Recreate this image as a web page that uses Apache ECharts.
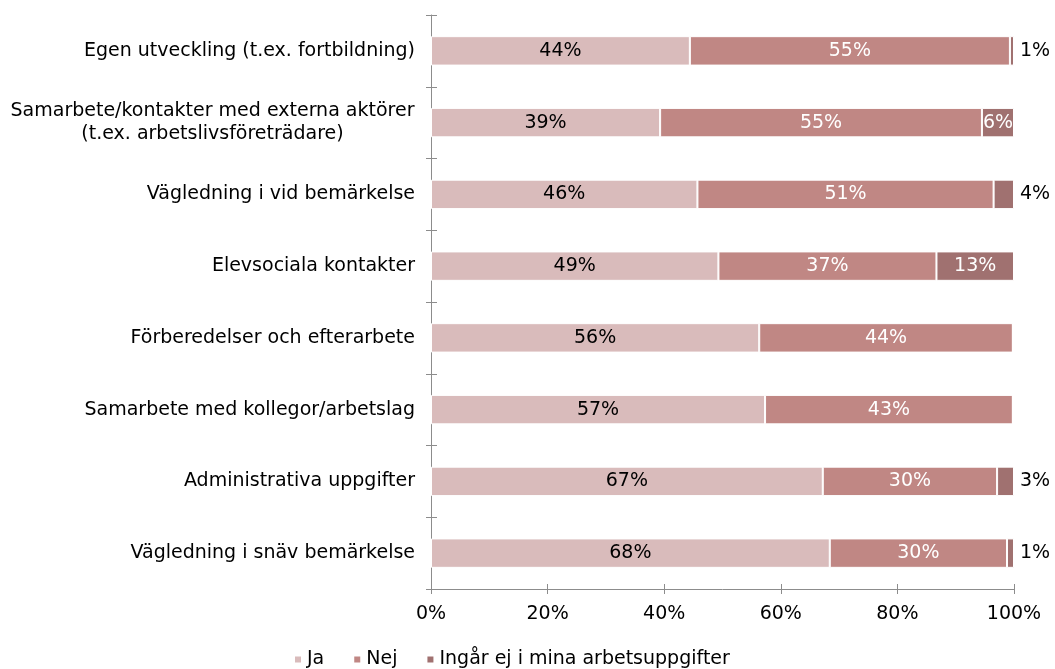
<!DOCTYPE html>
<html>
<head>
<meta charset="utf-8">
<script src="https://cdn.jsdelivr.net/npm/echarts@6/dist/echarts.min.js"></script>
<style>
  html, body { margin: 0; padding: 0; background: #fff; }
  #chart { width: 1055px; height: 669px; }
</style>
</head>
<body>
<div id="chart"></div>
<script>
// kategorier, uppifrån och ned
var categories = [
  'Egen utveckling (t.ex. fortbildning)',
  'Samarbete/kontakter med externa aktörer\n(t.ex. arbetslivsföreträdare)',
  'Vägledning i vid bemärkelse',
  'Elevsociala kontakter',
  'Förberedelser och efterarbete',
  'Samarbete med kollegor/arbetslag',
  'Administrativa uppgifter',
  'Vägledning i snäv bemärkelse'
];
var seriesNames = ['Ja', 'Nej', 'Ingår ej i mina arbetsuppgifter'];
var jaValues = [44.4, 39.3, 45.7, 49.3, 56.3, 57.3, 67.2, 68.4];
var nejValues = [54.9, 55.2, 50.8, 37.4, 43.5, 42.5, 29.9, 30.4];
var ingarValues = [0.7, 5.5, 3.5, 13.3, 0, 0, 2.9, 1.2];
var xTicks = [0, 20, 40, 60, 80, 100];

var colors = ['#D9BBBB', '#C08784', '#A07170'];
var fontFam = '"DejaVu Sans", Verdana, sans-serif';
var fs = 19;
var axisGrey = '#8c8c8c';

var chart = echarts.init(document.getElementById('chart'));

function pct(p) {
  return Math.round(p.value) + '%';
}

// små värden hamnar utanför stapeln
var ingarData = ingarValues.map(function (v) {
  if (v === 0) return { value: v, label: { show: false } };
  if (v < 5) return { value: v, label: { position: 'right', color: '#000', distance: 6 } };
  return { value: v, label: { position: 'inside', color: '#fff' } };
});

var gridBox = { left: 431, right: 41, top: 15, bottom: 80 };

var option = {
  animation: false,
  color: colors,
  textStyle: { fontFamily: fontFam },
  // grid 1 ligger ovanpå och ritar bara tickarnas inre halva
  grid: [gridBox, gridBox],
  legend: {
    data: seriesNames,
    bottom: -5,
    left: 288,
    icon: 'rect',
    itemWidth: 8,
    itemHeight: 8,
    itemGap: 28,
    textStyle: { fontSize: fs, color: '#000', fontFamily: fontFam }
  },
  xAxis: [
    {
      type: 'value',
      min: xTicks[0],
      max: xTicks[xTicks.length - 1],
      interval: 20,
      axisLine: { show: true, lineStyle: { color: axisGrey } },
      axisTick: { show: true, length: 5, lineStyle: { color: axisGrey } },
      splitLine: { show: false },
      axisLabel: {
        margin: 16,
        fontSize: fs,
        color: '#000',
        formatter: '{value}%'
      }
    },
    {
      type: 'value',
      gridIndex: 1,
      min: xTicks[0],
      max: xTicks[xTicks.length - 1],
      interval: 20,
      axisLine: { show: false },
      axisTick: { show: true, inside: true, length: 5, lineStyle: { color: axisGrey } },
      splitLine: { show: false },
      axisLabel: { show: false }
    }
  ],
  yAxis: [
    {
      type: 'category',
      inverse: true,
      data: categories,
      axisLine: { show: true, lineStyle: { color: axisGrey } },
      axisTick: { show: true, length: 5, lineStyle: { color: axisGrey } },
      axisLabel: {
        margin: 16,
        fontSize: fs,
        color: '#000',
        lineHeight: 23,
        formatter: function (v) {
          if (v.indexOf('\n') < 0) return v;
          return v.split('\n').map(function (s) { return '{c|' + s + '}'; }).join('\n');
        },
        rich: {
          c: { width: 405, align: 'center', fontSize: fs, lineHeight: 23, color: '#000' }
        }
      }
    },
    {
      type: 'category',
      gridIndex: 1,
      inverse: true,
      data: categories,
      axisLine: { show: false },
      axisTick: { show: true, inside: true, length: 6, lineStyle: { color: axisGrey } },
      axisLabel: { show: false }
    }
  ],
  series: [
    {
      name: seriesNames[0],
      type: 'bar',
      stack: 'total',
      barWidth: '41%',
      data: jaValues,
      itemStyle: { borderColor: '#fff', borderWidth: 1 },
      label: { show: true, position: 'inside', color: '#000', fontSize: fs, formatter: pct }
    },
    {
      name: seriesNames[1],
      type: 'bar',
      stack: 'total',
      data: nejValues,
      itemStyle: { borderColor: '#fff', borderWidth: 1 },
      label: { show: true, position: 'inside', color: '#fff', fontSize: fs, formatter: pct }
    },
    {
      name: seriesNames[2],
      type: 'bar',
      stack: 'total',
      data: ingarData,
      itemStyle: { borderColor: '#fff', borderWidth: 1 },
      label: { show: true, fontSize: fs, formatter: pct }
    }
  ]
};

chart.setOption(option);
</script>
</body>
</html>
